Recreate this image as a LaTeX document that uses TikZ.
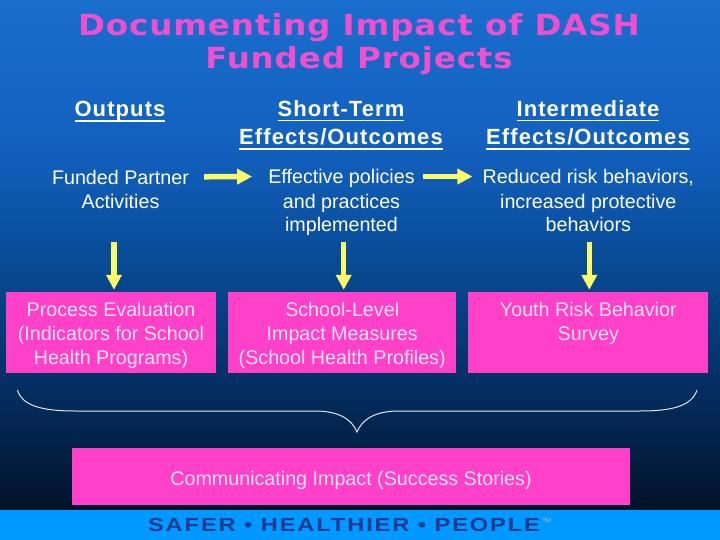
\documentclass[tikz,border=0pt]{standalone}
\usepackage{fontspec}
\setmainfont{Liberation Sans}
\newfontfamily\titlefont{DejaVu Sans}[FakeStretch=1.12,LetterSpace=3]
\newfontfamily\headfont{Liberation Sans}[LetterSpace=5]
\newfontfamily\tagfont{Liberation Sans}[FakeStretch=1.25,LetterSpace=10]
\usetikzlibrary{arrows.meta,calc}
\definecolor{bgtop}{RGB}{25,110,205}
\definecolor{bgA}{RGB}{18,96,190}
\definecolor{bgB}{RGB}{8,75,150}
\definecolor{bgC}{RGB}{5,52,110}
\definecolor{bgD}{RGB}{3,32,70}
\definecolor{bgbot}{RGB}{1,18,40}
\definecolor{hotpink}{RGB}{255,64,200}
\definecolor{titlepink}{RGB}{240,80,205}
\definecolor{boxink}{RGB}{255,228,245}
\definecolor{arrowyel}{RGB}{250,250,105}
\definecolor{bandblue}{RGB}{0,153,255}
\definecolor{tagblue}{RGB}{32,58,145}
\definecolor{tmgrey}{RGB}{190,200,230}
\definecolor{braceink}{RGB}{225,230,240}
\pgfdeclareverticalshading{slidebg}{100bp}{color(0bp)=(bgbot); color(25bp)=(bgbot);
  color(30.9bp)=(bgD); color(39.7bp)=(bgC); color(49.5bp)=(bgB); color(60.3bp)=(bgA);
  color(75bp)=(bgtop); color(100bp)=(bgtop)}
\newcommand\hdul[1]{\leavevmode\setbox0\hbox{#1}\rlap{\rule[-5pt]{\wd0}{1.8pt}}\box0}
\tikzset{
  heading/.style={font=\headfont\bfseries\fontsize{22}{28.5}\selectfont,text=white,align=center,inner sep=0pt,anchor=base},
  effect/.style={font=\fontsize{19.7}{24}\selectfont,text=white,align=center,inner sep=0pt,anchor=base},
  measure/.style={fill=hotpink,text=boxink,font=\fontsize{19.7}{24}\selectfont,align=center,inner sep=0pt,
    minimum height=81pt,text depth=0pt},
  yarr/.style={draw=arrowyel,line width=5.5pt,-{Triangle[length=15pt,width=15pt]}},
}
\begin{document}
\begin{tikzpicture}[x=1pt,y=-1pt]
  \useasboundingbox (0,0) rectangle (720,540);
  \shade[shading=slidebg] (0,0) rectangle (720,510);
  \fill[bandblue] (0,510) rectangle (720,540);
  % title
  \node[font=\titlefont\bfseries\fontsize{29}{32.5}\selectfont,text=titlepink,align=center,anchor=base,inner sep=0pt]
    (title) at (359,68.3) {Documenting Impact of DASH\\Funded Projects};
  % column headings
  \node[heading] (hout) at (120,116.7) {\hdul{Outputs}};
  \node[heading] (hst) at (341,145) {\hdul{Short-Term}\\\hdul{Effects/Outcomes}};
  \node[heading] (hint) at (588,145) {\hdul{Intermediate}\\\hdul{Effects/Outcomes}};
  % effects chain
  \node[effect] (fp) at (120.5,208.3) {Funded Partner\\Activities};
  \node[effect] (ep) at (341.5,232) {Effective policies\\and practices\\implemented};
  \node[effect] (rr) at (588.3,232) {Reduced risk behaviors,\\increased protective\\behaviors};
  \draw[yarr,shorten <=15pt,shorten >=16pt] ([yshift=-7pt]fp.north east) -- ([yshift=-7pt]ep.north west);
  \draw[yarr,shorten <=7.7pt,shorten >=10pt] ([yshift=-7pt]ep.north east) -- ([yshift=-7pt]rr.north west);
  % measures
  \node[measure,minimum width=210pt,text height=63pt] (pe) at (111,332.5)
    {Process Evaluation\\(Indicators for School\\Health Programs)};
  \node[measure,minimum width=227.7pt,text height=63pt] (sl) at (342.2,332.5)
    {School-Level\\Impact Measures\\(School Health Profiles)};
  \node[measure,minimum width=240pt,text height=15pt] (yr) at (588.3,332.5)
    {Youth Risk Behavior\\Survey};
  \coordinate (fpd) at (114,241.7);
  \coordinate (epd) at (343.7,241.7);
  \coordinate (rrd) at (589.3,241.7);
  \draw[yarr,shorten >=2pt] (fpd) -- (fpd |- pe.north);
  \draw[yarr,shorten >=2pt] (epd) -- (epd |- sl.north);
  \draw[yarr,shorten >=2pt] (rrd) -- (rrd |- yr.north);
  % brace
  \draw[braceink,line width=1pt] (17.4,390) .. controls (22,405) and (40,411) .. (75,411) -- (315,411)
    .. controls (340,411) and (352,420) .. (357,432)
    .. controls (362,420) and (374,411) .. (399,411) -- (640,411)
    .. controls (675,411) and (692,405) .. (697,390);
  \node[fill=hotpink,minimum width=558pt,minimum height=57pt,inner sep=0pt,text=boxink,
    font=\fontsize{19.7}{24}\selectfont,text height=17pt,text depth=0pt] (ci) at (351,476.5)
    {Communicating Impact (Success Stories)};
  % footer band
  \node[font=\tagfont\bfseries\fontsize{18.9}{20}\selectfont,text=tagblue,anchor=base,inner sep=0pt]
    (tag) at (344,531.7) {SAFER • HEALTHIER • PEOPLE};
  \node[font=\fontsize{6}{6}\selectfont,text=tmgrey,anchor=base west,inner sep=0pt]
    (tm) at ([xshift=2pt,yshift=9pt]tag.base east) {TM};
\end{tikzpicture}
\end{document}
